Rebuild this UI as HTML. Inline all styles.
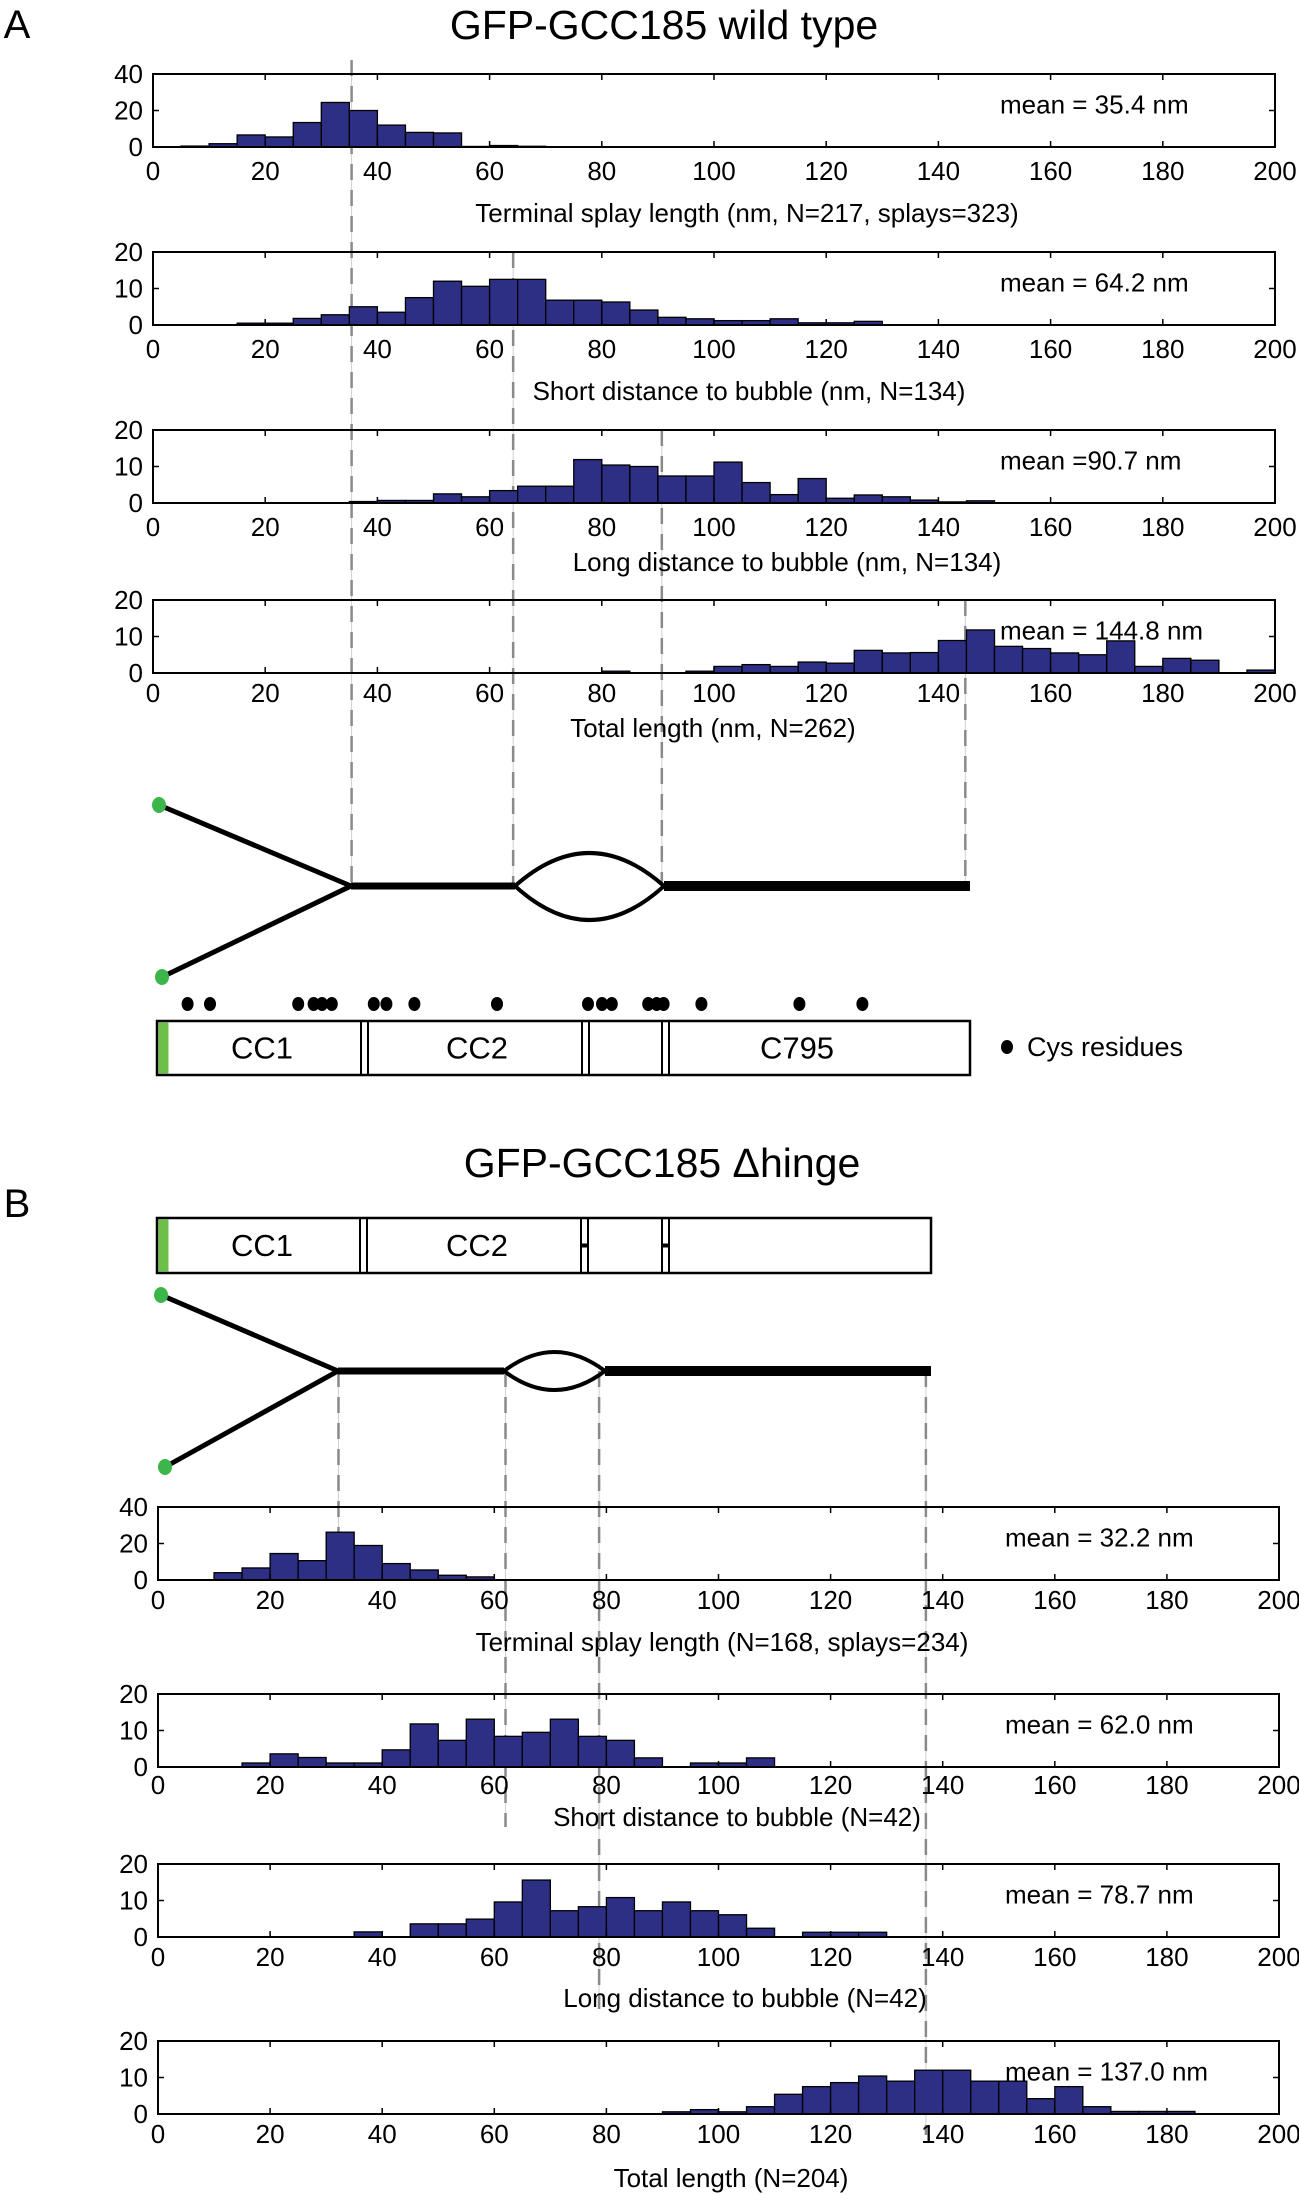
<!DOCTYPE html>
<html><head><meta charset="utf-8"><title>GCC185 histograms</title>
<style>
html,body{margin:0;padding:0;background:#fff;}
svg{display:block;font-family:"Liberation Sans",sans-serif;}
</style></head>
<body>
<svg id="fig" width="1299" height="2195" viewBox="0 0 1299 2195" xmlns="http://www.w3.org/2000/svg"></svg>
<script>
// ---- data (bin width 5 nm, bins start at binStart) ----
const tickLabels = [0,20,40,60,80,100,120,140,160,180,200];
const a1Start = 5;   const a1Counts = [0.5,1.8,6.6,5.5,13.4,24.4,20,12,8,7.7,0.3,0.8,0.4];
const a2Start = 15;  const a2Counts = [0.5,0.5,1.8,2.8,5,3.5,7.5,12,10.6,12.5,12.5,6.8,6.8,6.3,4.1,2.1,1.7,1.2,1.2,1.7,0.6,0.6,1];
const a3Start = 35;  const a3Counts = [0.4,0.7,0.7,2.5,1.7,3.4,4.6,4.6,11.9,10.4,10,7.4,7.4,11.2,5.6,2.3,6.7,1.3,2.2,1.7,0.8,0.3,0.6];
const a4Start = 80;  const a4Counts = [0.5,0,0,0.5,1.8,2.3,1.8,3,2.7,6.2,5.5,5.6,8.9,11.8,7.3,6.7,5.5,5,8.8,1.8,4,3.5,0,0.8];
const b1Start = 10;  const b1Counts = [4,6.6,14.5,10.6,26.2,18.9,9,5.5,2.6,1.7];
const b2Start = 15;  const b2Counts = [1.1,3.6,2.6,1.1,1.1,4.7,11.8,7.3,13.1,8.4,9.5,13.1,8.4,7.3,2.5,0,1.1,1.1,2.5];
const b3Start = 35;  const b3Counts = [1.4,0,3.6,3.6,4.9,9.6,15.6,7.2,8.3,10.8,7.2,9.6,7.2,6.1,2.4,0,1.3,1.3,1.3];
const b4Start = 90;  const b4Counts = [0.6,1.2,0.6,2,5.4,7.5,8.6,10.4,9,12,12,9,9,4.2,7.5,2,0.7,0.7,0.7];
const meansA = [35.4,64.2,90.7,144.8];
const meansB = [32.2,62.0,78.7,137.0];
const cysA = [134,150,213,224,230,237,267,276,296,355,420,430,437,463,469,474,501,571,616];

const svg = document.getElementById('fig');
const NS = 'http://www.w3.org/2000/svg';
function mk(tag, attrs, parent){const e=document.createElementNS(NS,tag);for(const k in attrs)e.setAttribute(k,attrs[k]);(parent||svg).appendChild(e);return e;}
function txt(x,y,s,size,anchor,parent){const t=mk('text',{x:x,y:y,'font-size':size,'text-anchor':anchor||'middle','dominant-baseline':'central',fill:'#000'},parent);t.textContent=s;return t;}

function hist(cfg){
  const g = mk('g',{});
  
  
  const L=cfg.left,R=cfg.right,T=cfg.top,B=cfg.bottom;
  const xs = v => L + (v/200)*(R-L);
  const ys = v => B - (v/cfg.ymax)*(B-T);
  cfg.counts.forEach((c,i)=>{
    if(c<=0) return;
    const x0=xs(cfg.start+i*5), x1=xs(cfg.start+(i+1)*5);
    const r=mk('rect',{x:x0,y:ys(c),width:x1-x0,height:B-ys(c),fill:'#2c2f84',stroke:'#000','stroke-width':1.3},g);
    
    
  });
  const box=mk('rect',{x:L,y:T,width:R-L,height:B-T,fill:'none',stroke:'#000','stroke-width':2},g);
  
  
  tickLabels.forEach(v=>{
    const x=xs(v);
    mk('line',{x1:x,y1:B,x2:x,y2:B-6,stroke:'#000','stroke-width':1.5},g);
    mk('line',{x1:x,y1:T,x2:x,y2:T+6,stroke:'#000','stroke-width':1.5},g);
    const t=txt(x,cfg.tickY,String(v),26,'middle',g);
    
    
  });
  const yt=[0,cfg.ymax/2,cfg.ymax];
  yt.forEach(v=>{
    const y=ys(v);
    mk('line',{x1:L,y1:y,x2:L+6,y2:y,stroke:'#000','stroke-width':1.5},g);
    mk('line',{x1:R,y1:y,x2:R-6,y2:y,stroke:'#000','stroke-width':1.5},g);
    const t=txt(L-10,y,String(v),26,'end',g);
    
    
  });
  const m=txt(cfg.meanX,T+(B-T)*0.42,'mean = '+cfg.mean.toFixed(1)+' nm',26,'start',g);
  if(cfg.meanText) m.textContent=cfg.meanText;
  
  
  const xl=txt(cfg.xlabelX,cfg.xlabelY,cfg.xlabel,26,'middle',g);
  
  
  return xs;
}

// titles
let t;
t=txt(17,25,'A',40,'middle');  
t=txt(664,25,'GFP-GCC185 wild type',41,'middle');  
t=txt(17,1204,'B',40,'middle');  
t=txt(662,1163,'GFP-GCC185 \u0394hinge',41,'middle');  

// dashed guide lines (drawn under bars)
const guides = mk('g',{});


function guide(x,y1,y2){
  mk('line',{x1:x,y1:y1,x2:x,y2:y2,stroke:'#d0d0d0','stroke-width':1},guides);
  mk('line',{x1:x,y1:y1,x2:x,y2:y2,stroke:'#8a8a8a','stroke-width':2.5,'stroke-dasharray':'16 10'},guides);
}
const AL=153,AR=1275, BL=158,BR=1279;
const axA = v => AL+(v/200)*(AR-AL);
const axB = v => BL+(v/200)*(BR-BL);
const aTops=[60,252,430,600];
meansA.forEach((m,i)=>guide(axA(m),aTops[i],886));
const bBots=[1580,1827,2009,2135];
meansB.forEach((m,i)=>guide(axB(m),1371,bBots[i]));

// histograms panel A
hist({name:'hist-terminal-splay-wt',left:AL,right:AR,top:74,bottom:147,ymax:40,start:a1Start,counts:a1Counts,tickY:171,mean:meansA[0],meanX:1000,xlabel:'Terminal splay length (nm, N=217, splays=323)',xlabelX:747,xlabelY:213});
hist({name:'hist-short-distance-wt',left:AL,right:AR,top:252,bottom:325,ymax:20,start:a2Start,counts:a2Counts,tickY:349,mean:meansA[1],meanX:1000,xlabel:'Short distance to bubble (nm, N=134)',xlabelX:749,xlabelY:391});
hist({name:'hist-long-distance-wt',left:AL,right:AR,top:430,bottom:503,ymax:20,start:a3Start,counts:a3Counts,tickY:527,mean:meansA[2],meanText:'mean =90.7 nm',meanX:1000,xlabel:'Long distance to bubble (nm, N=134)',xlabelX:787,xlabelY:562});
hist({name:'hist-total-length-wt',left:AL,right:AR,top:600,bottom:673,ymax:20,start:a4Start,counts:a4Counts,tickY:693,mean:meansA[3],meanX:1000,xlabel:'Total length (nm, N=262)',xlabelX:713,xlabelY:728});

// histograms panel B
hist({name:'hist-terminal-splay-hinge',left:BL,right:BR,top:1507,bottom:1580,ymax:40,start:b1Start,counts:b1Counts,tickY:1600,mean:meansB[0],meanX:1005,xlabel:'Terminal splay length (N=168, splays=234)',xlabelX:722,xlabelY:1642});
hist({name:'hist-short-distance-hinge',left:BL,right:BR,top:1694,bottom:1767,ymax:20,start:b2Start,counts:b2Counts,tickY:1785,mean:meansB[1],meanX:1005,xlabel:'Short distance to bubble (N=42)',xlabelX:737,xlabelY:1817});
hist({name:'hist-long-distance-hinge',left:BL,right:BR,top:1864,bottom:1937,ymax:20,start:b3Start,counts:b3Counts,tickY:1957,mean:meansB[2],meanX:1005,xlabel:'Long distance to bubble (N=42)',xlabelX:745,xlabelY:1998});
hist({name:'hist-total-length-hinge',left:BL,right:BR,top:2041,bottom:2114,ymax:20,start:b4Start,counts:b4Counts,tickY:2134,mean:meansB[3],meanX:1005,xlabel:'Total length (N=204)',xlabelX:731,xlabelY:2178});

// schematics
function schematic(name,d1,d2,jx,jy,sx,ex,endx,bubTop,bubBot){
  const g=mk('g',{});
  
  
  mk('line',{x1:d1[0],y1:d1[1],x2:jx,y2:jy,stroke:'#000','stroke-width':5},g);
  mk('line',{x1:d2[0],y1:d2[1],x2:jx,y2:jy,stroke:'#000','stroke-width':5},g);
  mk('line',{x1:jx,y1:jy,x2:sx,y2:jy,stroke:'#000','stroke-width':7},g);
  const cx=(sx+ex)/2;
  mk('path',{d:`M${sx},${jy} Q${cx},${2*bubTop-jy} ${ex},${jy} Q${cx},${2*bubBot-jy} ${sx},${jy}`,fill:'none',stroke:'#000','stroke-width':4},g);
  mk('line',{x1:ex,y1:jy,x2:endx,y2:jy,stroke:'#000','stroke-width':10},g);
  [d1,d2].forEach(p=>{const c=mk('ellipse',{cx:p[0],cy:p[1],rx:7,ry:8,fill:'#3cb54a'},g);});
}
schematic('molecule-schematic-wt',[159,805],[162,977],351,886,515,664,970,853,920);
schematic('molecule-schematic-hinge',[161,1295],[165,1467],338,1371,504,605,931,1352,1390);

// cys dots
const cysG=mk('g',{});


cysA.forEach(x=>{mk('ellipse',{cx:x*1.4,cy:1004,rx:6,ry:7,fill:'#000'},cysG);});

// domain bars
function domainBar(name,x0,x1,y0,y1,divs,labels,marks){
  const g=mk('g',{});
  
  
  mk('rect',{x:x0,y:y0,width:x1-x0,height:y1-y0,fill:'#fff',stroke:'#000','stroke-width':2.5},g);
  mk('rect',{x:x0+1.5,y:y0+1.5,width:10,height:y1-y0-3,fill:'#6cc04a'},g);
  divs.forEach(d=>{
    mk('line',{x1:d,y1:y0,x2:d,y2:y1,stroke:'#000','stroke-width':2},g);
    mk('line',{x1:d+7,y1:y0,x2:d+7,y2:y1,stroke:'#000','stroke-width':2},g);
  });
  labels.forEach(l=>{const tt=txt(l[0],(y0+y1)/2,l[1],31,'middle',g);});
  (marks||[]).forEach(m=>{mk('line',{x1:m,y1:(y0+y1)/2,x2:m+7,y2:(y0+y1)/2,stroke:'#000','stroke-width':4},g);});
}
domainBar('domain-bar-wt',157,970,1021,1075,[361,582,662],[[262,'CC1'],[477,'CC2'],[797,'C795']]);
domainBar('domain-bar-hinge',157,931,1218,1273,[360,581,662],[[262,'CC1'],[477,'CC2']],[581,662]);

// legend
const lg=mk('g',{});


mk('ellipse',{cx:1007,cy:1047,rx:6,ry:7,fill:'#000'},lg);
txt(1027,1047,'Cys residues',27,'start',lg);
</script>
</body></html>
